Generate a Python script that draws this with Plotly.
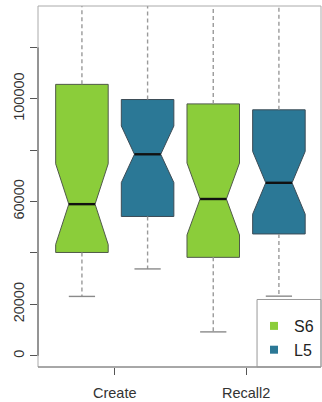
import plotly.graph_objects as go

# ---- data ----
groups = ["Create", "Recall2"]
series = ["S6", "L5"]
colors = {"S6": "#8bcd3a", "L5": "#2b7896"}

# per series: values for [Create, Recall2]
q1 = {"S6": [40200, 38300], "L5": [54200, 47400]}
median = {"S6": [59000, 61000], "L5": [78400, 67300]}
q3 = {"S6": [105600, 98000], "L5": [99700, 95700]}
lower_whisker = {"S6": [23100, 9300], "L5": [33800, 23200]}
upper_whisker = {"S6": [148000, 142000], "L5": [139000, 145000]}
notch = {"S6": [15700, 14000], "L5": [11000, 12200]}

y_ticks = [0, 20000, 40000, 60000, 80000, 100000, 120000]
y_labels = ["0", "20000", "", "60000", "", "100000", ""]

# ---- layout constants ----
BOX_W = 0.8
CAP_HALF = 0.2
MED_HALF = 0.2
FONT = "Liberation Sans, Arial, Helvetica, sans-serif"


def slot(g, s):
    return g * 2 + s + 1


fig = go.Figure()

for si, s in enumerate(series):
    xs = [slot(g, si) for g in range(len(groups))]

    # whiskers (dashed)
    wx, wy = [], []
    for i, x in enumerate(xs):
        wx += [x, x, None, x, x, None]
        wy += [q3[s][i], upper_whisker[s][i], None, q1[s][i], lower_whisker[s][i], None]
    fig.add_trace(go.Scatter(x=wx, y=wy, mode="lines", showlegend=False, hoverinfo="skip",
                             line=dict(color="#9a9a9a", width=1.4, dash="4px,3px")))

    # whisker caps
    cx, cy = [], []
    for i, x in enumerate(xs):
        cx += [x - CAP_HALF, x + CAP_HALF, None]
        cy += [lower_whisker[s][i], lower_whisker[s][i], None]
    fig.add_trace(go.Scatter(x=cx, y=cy, mode="lines", showlegend=False, hoverinfo="skip",
                             line=dict(color="#8a8a8a", width=1.4)))

    # notched boxes
    fig.add_trace(go.Box(
        x=xs, q1=q1[s], median=median[s], q3=q3[s],
        lowerfence=q1[s], upperfence=q3[s],
        notched=True, notchspan=notch[s], notchwidth=0.25,
        width=BOX_W, whiskerwidth=0,
        fillcolor=colors[s], line=dict(color="#505a4a" if s == "S6" else "#3c4c56", width=1),
        showlegend=False, hoverinfo="skip",
    ))

    # thick median bars
    mx, my = [], []
    for i, x in enumerate(xs):
        mx += [x - MED_HALF, x + MED_HALF, None]
        my += [median[s][i], median[s][i], None]
    fig.add_trace(go.Scatter(x=mx, y=my, mode="lines", showlegend=False, hoverinfo="skip",
                             line=dict(color="#111111", width=2.4)))

# legend entries
for s in series:
    fig.add_trace(go.Scatter(x=[None], y=[None], mode="markers", name=s,
                             marker=dict(symbol="square", size=8, color=colors[s])))

fig.update_layout(
    width=322, height=402,
    margin=dict(l=38, r=1, t=6, b=32),
    paper_bgcolor="white", plot_bgcolor="white",
    font=dict(family=FONT, color="#333333"),
    showlegend=True,
    legend=dict(x=0.993, xanchor="right", y=0, yanchor="bottom",
                bgcolor="rgba(0,0,0,0)", borderwidth=0,
                font=dict(size=16, color="#222222"), itemwidth=30,
                tracegroupgap=0),
    xaxis=dict(range=[0.331, 4.641], tickmode="array",
               tickvals=[slot(g, 0) + 0.5 for g in range(len(groups))], ticktext=groups,
               ticks="outside", ticklen=7, tickcolor="#555555",
               ticklabelstandoff=6,
               showgrid=False, zeroline=False, showline=False,
               tickfont=dict(size=14.5, color="#333333")),
    yaxis=dict(range=[-4360, 136090], tickmode="array", tickvals=y_ticks, ticktext=y_labels,
               tickangle=-90, ticks="outside", ticklen=7, tickcolor="#555555",
               showgrid=False, zeroline=False, showline=False,
               tickfont=dict(size=14.5, color="#333333")),
    shapes=[
        dict(type="rect", xref="paper", yref="paper", x0=0, x1=1, y0=0, y1=1,
             line=dict(color="#aaaaaa", width=1), layer="above"),
        dict(type="line", xref="paper", yref="paper", x0=0, x1=1, y0=0, y1=0,
             line=dict(color="#7a7a7a", width=1), layer="above"),
        dict(type="line", xref="paper", yref="y", x0=0, x1=0, y0=y_ticks[0], y1=y_ticks[-1],
             line=dict(color="#555555", width=1), layer="above"),
        # legend frame
        dict(type="rect", xref="paper", yref="paper", x0=0.774, x1=1, y0=0, y1=0.187,
             line=dict(color="#999999", width=1), layer="above"),
    ],
)

fig.write_html("out.html")
